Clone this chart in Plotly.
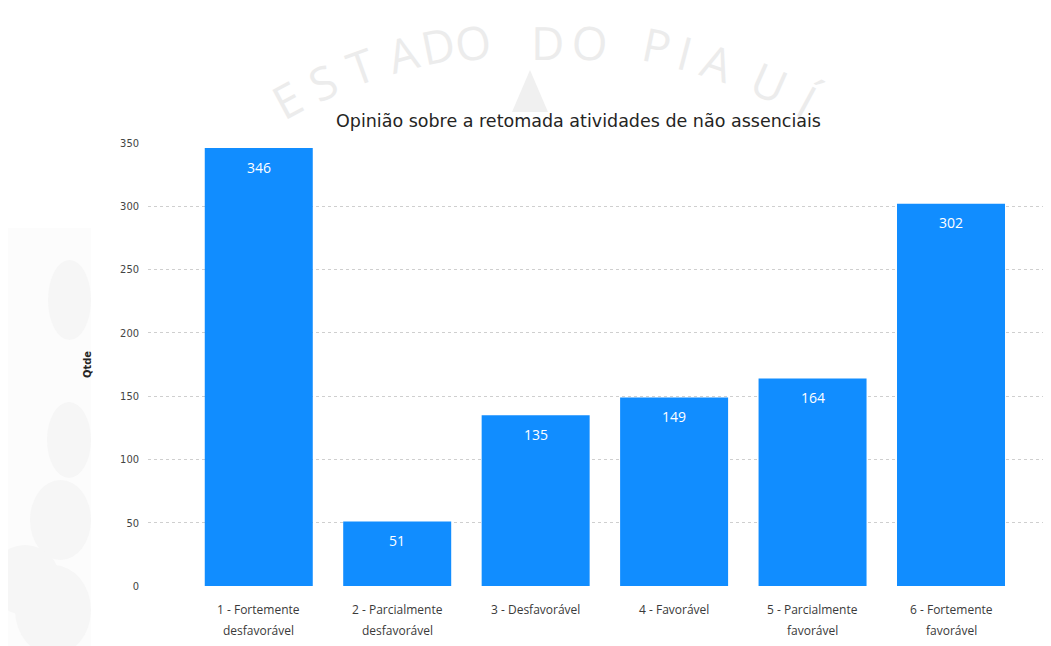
import math
import plotly.graph_objects as go

categories = ["1 - Fortemente|desfavorável", "2 - Parcialmente|desfavorável",
              "3 - Desfavorável", "4 - Favorável",
              "5 - Parcialmente|favorável", "6 - Fortemente|favorável"]
values = [346, 51, 135, 149, 164, 302]
y_ticks = [0, 50, 100, 150, 200, 250, 300, 350]
title_text = "Opinião sobre a retomada atividades de não assenciais"
watermark = "ESTADO DO PIAUÍ"

OFF = 8  # page body margin
W, H = 1051 - OFF, 646 - OFF
L, R, T, B = 148 - OFF, 1, 143 - OFF, 60
pw, ph = W - L - R, H - T - B

def px(x):
    return (x - OFF - L) / pw

def py(y):
    return (H - B - (y - OFF)) / ph

first_lines = [c.split("|")[0] for c in categories]
second_lines = [c.split("|")[1] if "|" in c else "" for c in categories]
xs = list(range(len(categories)))

fig = go.Figure(go.Bar(
    x=xs, y=values,
    marker=dict(color="#118DFF", line=dict(width=0)),
    width=0.78,
    hoverinfo="skip",
))

shapes = []
annotations = []

# faint background decorations (left panel + petals)
shapes.append(dict(type="rect", xref="paper", yref="paper", x0=px(0), x1=px(91),
                   y0=py(646), y1=py(228), fillcolor="#FCFCFC", line=dict(width=0), layer="below"))
for (cx, cy, r) in [(88, 300, 40), (85, 440, 38), (70, 520, 40), (60, 610, 45), (25, 580, 35)]:
    shapes.append(dict(type="circle", xref="paper", yref="paper",
                       x0=px(cx - r), x1=px(min(cx + r, 91)), y0=py(cy + r), y1=py(cy - r),
                       fillcolor="#F6F6F6", line=dict(width=0), layer="below"))
# triangle
shapes.append(dict(type="path", xref="paper", yref="paper",
                   path=f"M {px(512)} {py(112)} L {px(530)} {py(70)} L {px(548)} {py(112)} Z",
                   fillcolor="#F0F0F0", line=dict(width=0), layer="below"))

# watermark letters along an arc
letter_x = [287, 322, 360, 403, 437, 473, None, 547, 590, None, 657, 685, 718, 770, 808]
cxw, cyw, rw = 546, 577, 549
for ch, lx in zip(watermark, letter_x):
    if ch == " " or lx is None:
        continue
    ang = math.asin((lx - cxw) / rw)
    ly = max(cyw - rw * math.cos(ang) + 6, 42)
    annotations.append(dict(x=px(lx), y=py(ly), xref="paper", yref="paper", text=ch,
                            showarrow=False, textangle=math.degrees(ang),
                            font=dict(size=46, color="#ECECEC", family="Open Sans"),
                            xanchor="center", yanchor="middle"))

annotations.append(dict(x=px(578), y=py(121), xref="paper", yref="paper", text=title_text,
                        showarrow=False, font=dict(size=17.5, color="#252423", family="DejaVu Sans"),
                        xanchor="center", yanchor="middle"))

# bar value labels
for x, v in zip(xs, values):
    annotations.append(dict(x=x, y=v, xref="x", yref="y", text=str(v), showarrow=False,
                            yshift=-19, xanchor="center", yanchor="middle",
                            font=dict(size=14, color="white", family="Open Sans")))

# category labels (two lines)
for x, a, b in zip(xs, first_lines, second_lines):
    annotations.append(dict(x=x, y=py(609), xref="x", yref="paper", text=a, showarrow=False,
                            xanchor="center", yanchor="middle",
                            font=dict(size=12, color="#3A3A3A", family="Open Sans")))
    if b:
        annotations.append(dict(x=x, y=py(630), xref="x", yref="paper", text=b, showarrow=False,
                                xanchor="center", yanchor="middle",
                                font=dict(size=12, color="#3A3A3A", family="Open Sans")))

fig.update_layout(
    width=W, height=H,
    margin=dict(l=L, r=R, t=T, b=B, pad=0),
    paper_bgcolor="white", plot_bgcolor="rgba(0,0,0,0)",
    showlegend=False,
    shapes=shapes, annotations=annotations,
    xaxis=dict(range=[-0.80, 5.715], showticklabels=False, showgrid=False,
               zeroline=False, showline=False, ticks="", fixedrange=True),
    yaxis=dict(range=[0, 350], tickvals=y_ticks, showgrid=True,
               gridcolor="#CFCFCF", griddash="dot", gridwidth=1,
               zeroline=False, showline=False,
               tickfont=dict(size=11, color="#444444", family="DejaVu Sans Condensed"),
               ticks="", ticklabelstandoff=8,
               title=dict(text="<b>Qtde</b>", font=dict(size=11, color="#252423", family="DejaVu Sans Condensed"),
                          standoff=26)),
)

fig.write_html("out.html")
